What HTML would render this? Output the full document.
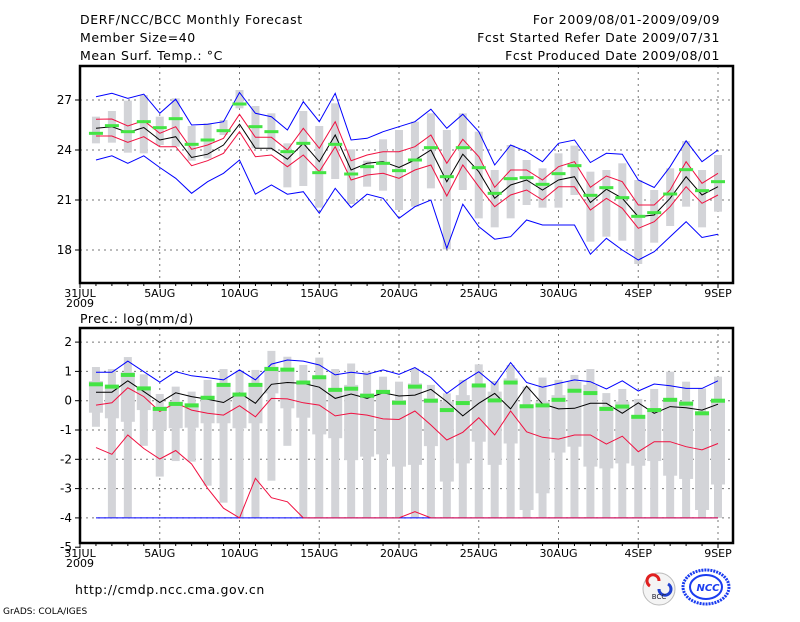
<!DOCTYPE html>
<html><head><meta charset="utf-8">
<style>
body{margin:0;background:#fff;width:800px;height:618px;overflow:hidden;font-family:"DejaVu Sans","Liberation Sans",sans-serif;}
svg text{font-family:"DejaVu Sans","Liberation Sans",sans-serif;}
</style></head><body>
<svg id="chart" width="800" height="618" xmlns="http://www.w3.org/2000/svg">
<g font-size="12.5" fill="#000" letter-spacing="0.6">
<text x="80" y="24">DERF/NCC/BCC Monthly Forecast</text>
<text x="80" y="42">Member Size=40</text>
<text x="80" y="60">Mean Surf. Temp.: °C</text>
<text x="720" y="24" text-anchor="end">For 2009/08/01-2009/09/09</text>
<text x="720" y="42" text-anchor="end">Fcst Started Refer Date 2009/07/31</text>
<text x="720" y="60" text-anchor="end">Fcst Produced Date 2009/08/01</text>
<text x="80" y="323">Prec.: log(mm/d)</text>
<text x="75" y="594">http://cmdp.ncc.cma.gov.cn</text>
</g>
<text x="3" y="614" font-size="9">GrADS: COLA/IGES</text>
<g>
<circle cx="659" cy="589" r="16" fill="#f4f4f4" stroke="#bbb"/>
<path d="M650 586 a6 6 0 1 1 9 -5" stroke="#e02020" stroke-width="3" fill="none"/>
<path d="M668 584 a6 6 0 1 1 -9 5" stroke="#2040d0" stroke-width="3" fill="none"/>
<text x="659" y="599" font-size="7" text-anchor="middle" fill="#223">BCC</text>
</g>
<g>
<ellipse cx="706" cy="587" rx="23" ry="17" fill="none" stroke="#1a3cf0" stroke-width="3" stroke-dasharray="2 1"/>
<ellipse cx="706" cy="587" rx="16" ry="12" fill="none" stroke="#1a3cf0" stroke-width="2"/>
<text x="708" y="591" font-size="10" font-style="italic" font-weight="bold" text-anchor="middle" fill="#1a3cf0">NCC</text>
</g>
<g id="top"></g>
<g id="bot"></g>
</svg>
<script>
// ---- Temperature panel data (Aug 1 .. Sep 9) ----
const tBlueHi=[27.2,27.4,27.1,27.35,26.2,27.05,25.5,25.55,25.7,27.45,26.2,26.0,25.2,26.9,25.7,27.4,24.6,24.7,25.1,25.4,25.7,26.45,25.3,26.15,25.1,23.1,24.3,23.9,23.3,24.4,24.6,23.25,23.8,23.75,22.2,21.75,23.0,24.55,23.3,24.0];
const tBlueLo=[23.4,23.65,23.2,23.65,22.95,22.3,21.4,22.1,22.6,23.4,21.35,21.9,21.35,21.5,20.2,21.7,20.55,21.35,21.1,19.9,20.6,21.0,18.1,20.75,19.4,18.65,18.8,19.8,19.5,19.5,19.5,17.75,18.7,18.0,17.4,17.9,18.8,19.7,18.75,18.95];
const tMean=[25.3,25.4,25.05,25.35,24.6,24.8,23.55,23.75,24.3,25.55,24.1,24.1,23.45,24.4,23.3,24.9,22.8,23.2,23.3,22.95,23.4,24.0,22.1,23.75,22.7,21.1,21.9,22.2,21.6,22.2,22.4,20.85,21.65,21.1,20.0,20.1,21.1,22.4,21.3,21.8];
const tRedHi=[25.84,25.86,25.44,25.76,25.0,25.4,24.04,24.3,24.7,26.14,24.76,24.76,24.0,25.3,24.1,25.7,23.36,23.7,23.9,23.9,24.2,24.9,23.2,24.64,23.6,21.76,22.8,22.8,22.2,23.0,23.3,21.76,22.44,22.1,20.7,20.7,21.6,23.3,22.0,22.6];
const tRedLo=[24.84,24.84,24.46,24.8,24.2,24.2,23.06,23.36,23.8,25.1,23.6,23.7,23.0,23.7,22.7,24.2,22.2,22.5,22.6,22.3,22.8,23.1,21.24,23.1,21.8,20.6,21.3,21.6,21.0,21.8,21.8,20.4,21.1,20.5,19.3,19.7,20.6,21.8,20.8,21.3];
const tCtrl=[25.0,25.46,25.1,25.7,25.34,25.88,24.34,24.6,25.16,26.76,25.4,25.1,23.9,24.4,22.64,24.34,22.56,23.0,23.2,22.76,23.4,24.14,22.4,24.14,22.94,21.4,22.28,22.34,21.94,22.58,23.06,21.28,21.74,21.14,20.02,20.24,21.36,22.82,21.56,22.1];
const tBarHi=[26.0,26.34,26.96,27.3,26.0,27.1,25.44,25.6,25.8,27.6,26.64,26.2,24.4,26.34,25.44,26.8,24.04,23.36,24.64,25.2,25.7,26.2,25.2,26.2,25.1,22.8,24.3,23.4,22.9,23.8,24.26,22.7,22.8,23.2,22.2,21.6,22.9,24.54,22.8,23.7];
const tBarLo=[24.4,24.44,23.84,23.8,24.3,24.2,23.36,23.5,24.9,26.5,24.1,24.0,21.76,21.84,20.54,22.26,20.76,21.8,21.56,20.4,20.6,21.7,18.04,21.6,19.9,19.36,19.9,20.7,20.54,20.54,21.3,18.5,18.8,18.56,17.16,18.44,19.44,20.6,19.36,20.3];
const tTicks=[18,21,24,27];
// ---- Precipitation panel data ----
const pBlueHi=[0.97,0.97,1.35,0.99,0.63,0.99,0.85,0.79,0.71,1.05,0.71,1.25,1.39,1.35,1.22,0.88,0.97,0.90,1.05,0.90,1.13,0.79,0.25,0.65,0.99,0.54,1.30,0.62,0.46,0.59,0.71,0.65,0.40,0.68,0.33,0.57,0.51,0.42,0.42,0.68];
const pBlueLo=[-4,-4,-4,-4,-4,-4,-4,-4,-4,-4,-4,-4,-4,-4,-4,-4,-4,-4,-4,-4,-4,-4,-4,-4,-4,-4,-4,-4,-4,-4,-4,-4,-4,-4,-4,-4,-4,-4,-4,-4];
const pMean=[0.29,0.29,0.68,0.31,-0.06,0.27,0.14,0.05,-0.06,0.27,-0.09,0.56,0.62,0.59,0.46,0.08,0.23,0.08,0.27,0.16,0.19,0.39,-0.03,-0.52,-0.09,0.25,-0.28,0.50,-0.11,-0.28,-0.26,-0.09,-0.09,-0.43,-0.07,-0.43,-0.20,-0.24,-0.32,-0.12];
const pRedHi=[-0.15,-0.07,0.44,0.14,-0.37,-0.07,-0.32,-0.43,-0.49,-0.17,-0.55,0.08,0.06,-0.07,-0.15,-0.52,-0.43,-0.49,-0.62,-0.64,-0.35,-0.83,-1.34,-1.08,-0.58,-1.17,-0.35,-1.06,-1.25,-1.31,-1.17,-1.17,-1.48,-1.21,-1.74,-1.40,-1.40,-1.57,-1.68,-1.46];
const pRedLo=[-1.60,-1.83,-1.17,-1.63,-1.99,-1.70,-2.16,-2.99,-3.67,-4,-2.65,-3.31,-3.45,-4,-4,-4,-4,-4,-4,-4,-3.79,-4,-4,-4,-4,-4,-4,-4,-4,-4,-4,-4,-4,-4,-4,-4,-4,-4,-4,-4];
const pCtrl=[0.56,0.48,0.88,0.42,-0.28,-0.11,-0.16,0.10,0.54,0.21,0.54,1.08,1.06,0.62,0.80,0.37,0.41,0.17,0.30,-0.07,0.48,0.0,-0.32,-0.08,0.52,0.01,0.62,-0.19,-0.16,0.03,0.34,0.26,-0.28,-0.20,-0.55,-0.32,0.03,-0.10,-0.43,0.0];
const pMax=[1.15,1.08,1.49,0.90,0.23,0.48,0.31,0.71,1.08,1.01,1.05,1.70,1.50,1.22,1.47,1.08,1.27,0.99,0.82,0.65,1.10,0.54,0.25,0.71,1.24,0.67,1.22,0.48,0.79,0.71,0.88,1.08,0.26,0.40,0.06,0.40,0.99,0.65,0.42,0.82];
const pQHi=[0.67,0.54,0.97,0.48,-0.20,-0.03,-0.09,0.14,0.59,0.25,0.59,1.16,1.10,0.65,0.82,0.42,0.54,0.25,0.37,0.02,0.59,0.08,-0.03,0.19,0.54,0.31,0.76,-0.15,-0.03,0.19,0.65,0.54,-0.20,-0.03,-0.49,-0.37,0.08,-0.03,-0.37,0.02];
const pQLo=[-0.41,-0.60,-0.72,-0.32,-1.00,-0.94,-0.92,-0.77,-0.77,-0.94,-0.77,0.25,-0.26,-0.58,-1.15,-1.28,-2.03,-1.91,-1.83,-2.25,-2.19,-1.55,-2.76,-2.14,-1.40,-2.19,-1.46,-3.73,-3.16,-1.77,-1.57,-2.25,-2.31,-2.14,-2.22,-2.06,-2.56,-2.67,-3.73,-2.86];
const pMin=[-0.89,-4,-4,-1.54,-2.59,-2.06,-2.08,-2.90,-3.48,-4,-4,-2.73,-1.54,-4,-4,-4,-4,-4,-4,-4,-4,-4,-4,-4,-4,-4,-4,-4,-4,-4,-4,-4,-4,-4,-4,-4,-4,-4,-4,-4];
const pTicks=[2,1,0,-1,-2,-3,-4,-5];
const xLabels=["31JUL","5AUG","10AUG","15AUG","20AUG","25AUG","30AUG","4SEP","9SEP"];

const NS="http://www.w3.org/2000/svg";
const X0=80, DX=15.95;
function xDay(d){return X0+d*DX;}         // d=0 -> Jul 31
function xI(i){return xDay(i+1);}
function yT(v){return 100+(27-v)*50/3;}
function yB(v){return 400.7-v*29.3;}
function mk(parent,tag,attrs){const e=document.createElementNS(NS,tag);for(const k in attrs)e.setAttribute(k,attrs[k]);parent.appendChild(e);return e;}

function panel(g,top,bot,yf,ticks,name){
  // grid
  ticks.forEach(t=>{const y=yf(t); if(y>top+1&&y<bot-1){
    const l=mk(g,'line',{x1:X0,x2:733,y1:y,y2:y,stroke:'#777','stroke-dasharray':'2 4 2 4','stroke-width':1});
    }});
  for(let k=1;k<9;k++){const x=xDay(k*5);
    const l=mk(g,'line',{x1:x,x2:x,y1:top,y2:bot,stroke:'#777','stroke-dasharray':'2 4','stroke-width':1});
    }
}
function frame(g,top,bot,yf,ticks,name){
  const r=mk(g,'rect',{x:X0,y:top,width:733-X0,height:bot-top,fill:'none',stroke:'#000','stroke-width':2.5});
  
  ticks.forEach(t=>{const y=yf(t);
    mk(g,'line',{x1:X0-5,x2:X0,y1:y,y2:y,stroke:'#000'});
    const tx=mk(g,'text',{x:X0-8,y:y+4,'font-size':12,'text-anchor':'end'});tx.textContent=t;
    });
  for(let d=0;d<=40;d++){const x=xDay(d);const maj=d%5==0;
    mk(g,'line',{x1:x,x2:x,y1:bot,y2:bot+(maj?5:3),stroke:'#000'});}
  xLabels.forEach((s,k)=>{const tx=mk(g,'text',{x:xDay(k*5),y:bot+14,'font-size':11,'text-anchor':'middle'});tx.textContent=s;
    });
  const yr=mk(g,'text',{x:xDay(0),y:bot+24,'font-size':11,'text-anchor':'middle'});yr.textContent='2009';
  
}
function line(g,arr,yf,col,name,lo,hi){
  const pts=arr.map((v,i)=>xI(i).toFixed(1)+','+yf(Math.max(lo,Math.min(hi,v))).toFixed(1)).join(' ');
  const p=mk(g,'polyline',{points:pts,fill:'none',stroke:col,'stroke-width':1});
  
}
// Top panel
const gt=document.getElementById('top');
panel(gt,66,283,yT,tTicks,'temp');
tBarHi.forEach((h,i)=>{const y1=yT(h),y2=yT(tBarLo[i]);
  const r=mk(gt,'rect',{x:xI(i)-4,y:y1,width:8,height:y2-y1,fill:'#d3d4d8'});
  });
line(gt,tBlueHi,yT,'#0000ff','temp-max-line',16,28);
line(gt,tBlueLo,yT,'#0000ff','temp-min-line',16,28);
line(gt,tRedHi,yT,'#f01040','temp-upper-line',16,28);
line(gt,tRedLo,yT,'#f01040','temp-lower-line',16,28);
line(gt,tMean,yT,'#000000','temp-mean-line',16,28);
tCtrl.forEach((v,i)=>{const r=mk(gt,'rect',{x:xI(i)-7,y:yT(v)-1.5,width:14,height:3,fill:'#44e444'});
  });
frame(gt,66,283,yT,tTicks,'temp');
// Bottom panel
const gb=document.getElementById('bot');
panel(gb,328,543,yB,pTicks,'prec');
pMax.forEach((h,i)=>{const y1=yB(h),y2=yB(pMin[i]);
  const r=mk(gb,'rect',{x:xI(i)-4,y:y1,width:8,height:y2-y1,fill:'#d3d4d8'});
  
  const q1=yB(pQHi[i]),q2=yB(pQLo[i]);
  const b=mk(gb,'rect',{x:xI(i)-7,y:q1,width:14,height:q2-q1,fill:'#d3d4d8'});
  });
line(gb,pBlueHi,yB,'#0000ff','prec-max-line',-4,2.4);
line(gb,pBlueLo,yB,'#0000ff','prec-min-line',-4,2.4);
line(gb,pRedHi,yB,'#f01040','prec-upper-line',-4,2.4);
line(gb,pRedLo,yB,'#f01040','prec-lower-line',-4,2.4);
line(gb,pMean,yB,'#000000','prec-mean-line',-4,2.4);
pCtrl.forEach((v,i)=>{const r=mk(gb,'rect',{x:xI(i)-7,y:yB(v)-2,width:14,height:4,fill:'#44e444'});
  });
frame(gb,328,543,yB,pTicks,'prec');
</script>
</body></html>
